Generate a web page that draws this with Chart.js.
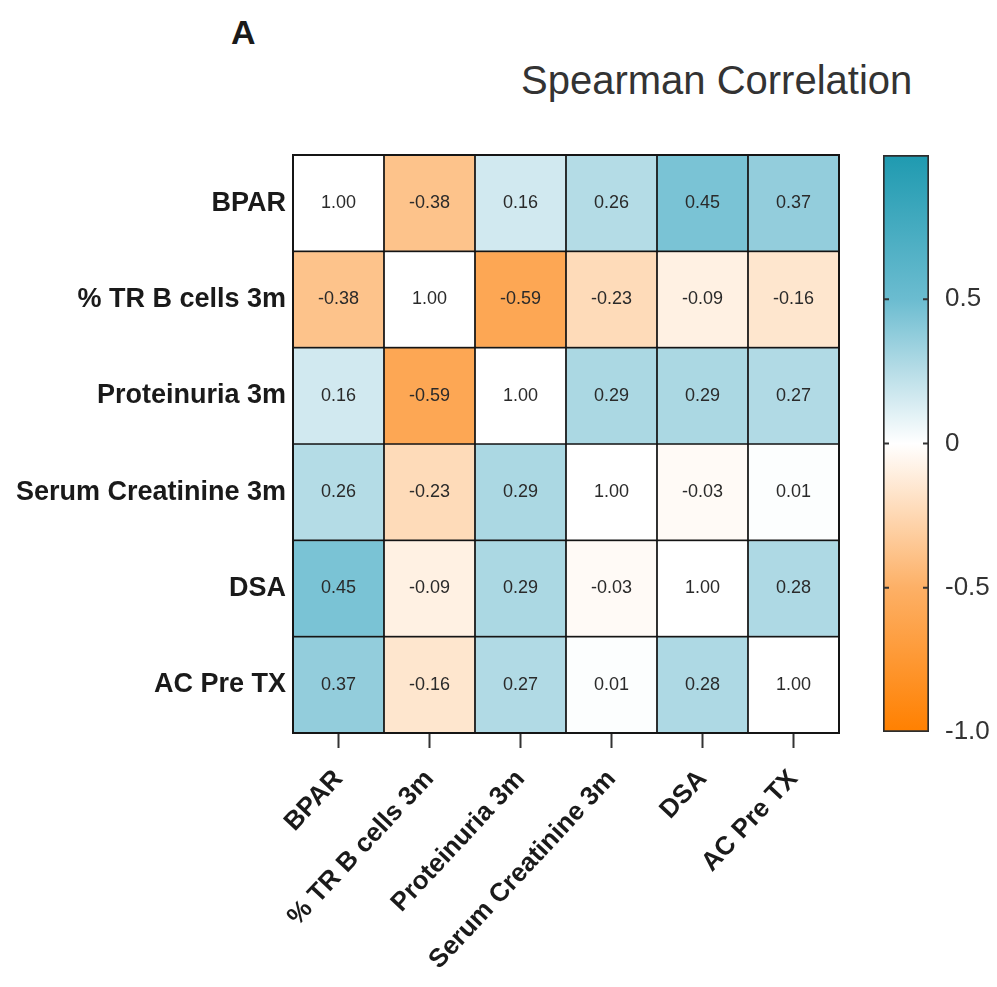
<!DOCTYPE html>
<html>
<head>
<meta charset="utf-8">
<title>Spearman Correlation</title>
<script src="https://cdn.jsdelivr.net/npm/chart.js@4.4.1/dist/chart.umd.min.js"></script>
<style>
  body { margin: 0; background: #fff; font-family: 'Liberation Sans', Arial, sans-serif; }
  #wrap { position: relative; width: 997px; height: 987px; overflow: hidden; }
  #heat { position: absolute; left: 0; top: 0; }
  #scaleBar { position: absolute; left: 860px; top: 130px; }
  .panel { position: absolute; left: 231px; top: 13px; font-weight: bold; font-size: 34px; color: #1a1a1a; }
  .title { position: absolute; left: 521px; top: 58px; font-size: 40px; color: #333; white-space: nowrap; }
</style>
</head>
<body>
<div id="wrap">
  <div class="panel">A</div>
  <div class="title">Spearman Correlation</div>
  <canvas id="heat" width="997" height="987"></canvas>
  <canvas id="scaleBar" width="137" height="630"></canvas>
</div>
<script>
// variables, same order on both axes
const variables = ['BPAR', '% TR B cells 3m', 'Proteinuria 3m', 'Serum Creatinine 3m', 'DSA', 'AC Pre TX'];

// correlation rows
const rhoBPAR = [1.00, -0.38, 0.16, 0.26, 0.45, 0.37];
const rhoTRB = [-0.38, 1.00, -0.59, -0.23, -0.09, -0.16];
const rhoProteinuria = [0.16, -0.59, 1.00, 0.29, 0.29, 0.27];
const rhoCreatinine = [0.26, -0.23, 0.29, 1.00, -0.03, 0.01];
const rhoDSA = [0.45, -0.09, 0.29, -0.03, 1.00, 0.28];
const rhoACPreTX = [0.37, -0.16, 0.27, 0.01, 0.28, 1.00];

// colour bar
const colorbarRange = [-1, 1];
const colorbarTicks = [-1, -0.5, 0, 0.5];

const rows = [rhoBPAR, rhoTRB, rhoProteinuria, rhoCreatinine, rhoDSA, rhoACPreTX];

// orange -> white -> teal
const colorStops = [
    [-1, [255, 128, 0]],
    [-0.5, [253, 176, 102]],
    [0, [255, 255, 255]],
    [0.25, [183, 221, 231]],
    [0.5, [107, 188, 208]],
    [1, [31, 154, 176]]
];

function rhoColor(v) {
    for (let i = 1; i < colorStops.length; i++) {
        const [v0, c0] = colorStops[i - 1];
        const [v1, c1] = colorStops[i];
        if (v <= v1) {
            const t = (v - v0) / (v1 - v0);
            const c = c0.map((x, k) => Math.round(x + (c1[k] - x) * t));
            return `rgb(${c.join(',')})`;
        }
    }
    return `rgb(${colorStops[colorStops.length - 1][1].join(',')})`;
}

const fontFamily = "'Liberation Sans', Arial, sans-serif";

const cellText = {
    id: 'cellText',
    afterDatasetsDraw(chart) {
        const ctx = chart.ctx;
        ctx.save();
        ctx.font = `18px ${fontFamily}`;
        ctx.fillStyle = '#2a2a2a';
        ctx.textAlign = 'center';
        ctx.textBaseline = 'middle';
        chart.data.datasets.forEach((ds, r) => {
            chart.getDatasetMeta(r).data.forEach((bar, c) => {
                ctx.fillText(ds.rho[c].toFixed(2), bar.x, (bar.y + bar.base) / 2);
            });
        });
        const a = chart.chartArea;
        ctx.strokeStyle = '#151515';
        ctx.lineWidth = 2;
        ctx.strokeRect(a.left, a.top, a.right - a.left, a.bottom - a.top);
        ctx.restore();
    }
};

new Chart(document.getElementById('heat'), {
    type: 'bar',
    data: {
        labels: variables,
        datasets: rows.map((vals, r) => ({
            label: variables[r],
            data: vals.map(() => [r, r + 1]),
            rho: vals,
            // the diagonal is left blank
            backgroundColor: vals.map((v, c) => c === r ? '#ffffff' : rhoColor(v)),
            borderColor: '#151515',
            borderWidth: 1.2,
            borderSkipped: false,
            barPercentage: 1,
            categoryPercentage: 1,
            grouped: false
        }))
    },
    options: {
        responsive: false,
        animation: false,
        layout: {
            padding: { left: 0, top: 155, right: 158, bottom: 0 }
        },
        plugins: {
            legend: { display: false },
            tooltip: { enabled: false }
        },
        scales: {
            x: {
                grid: {
                    display: true,
                    offset: false,
                    drawOnChartArea: false,
                    drawTicks: true,
                    tickLength: 15,
                    tickWidth: 2,
                    tickColor: '#333'
                },
                border: { display: false },
                ticks: {
                    color: '#1a1a1a',
                    font: { family: fontFamily, size: 26, weight: 'bold' },
                    minRotation: 47,
                    maxRotation: 47,
                    autoSkip: false,
                    padding: 16
                },
                afterFit: s => { s.height = 254; }
            },
            y: {
                type: 'linear',
                reverse: true,
                min: 0,
                max: 6,
                grid: { display: false, drawTicks: false },
                border: { display: false },
                afterBuildTicks: s => {
                    s.ticks = variables.map((_, i) => ({ value: i + 0.5 }));
                },
                ticks: {
                    color: '#1a1a1a',
                    font: { family: fontFamily, size: 27, weight: 'bold' },
                    padding: 7,
                    callback: (v, i) => variables[i]
                },
                afterFit: s => { s.width = 293; }
            }
        }
    },
    plugins: [cellText]
});

// colour bar as a single floating bar with a gradient fill
const innerTicks = {
    id: 'innerTicks',
    afterDatasetsDraw(chart) {
        const { ctx, chartArea: a } = chart;
        const y = chart.scales.y;
        ctx.save();
        ctx.strokeStyle = '#333';
        ctx.lineWidth = 2;
        colorbarTicks.forEach(v => {
            if (v === colorbarRange[0]) return;
            const py = y.getPixelForValue(v);
            ctx.beginPath();
            ctx.moveTo(a.left, py);
            ctx.lineTo(a.left + 6, py);
            ctx.moveTo(a.right - 6, py);
            ctx.lineTo(a.right, py);
            ctx.stroke();
        });
        ctx.restore();
    }
};

new Chart(document.getElementById('scaleBar'), {
    type: 'bar',
    data: {
        labels: [''],
        datasets: [{
            data: [colorbarRange],
            backgroundColor: ctx => {
                const chart = ctx.chart;
                const y = chart.scales.y;
                if (!y || !chart.chartArea) return '#fff';
                const [lo, hi] = colorbarRange;
                const g = chart.ctx.createLinearGradient(0, y.getPixelForValue(lo), 0, y.getPixelForValue(hi));
                colorStops.forEach(([v, c]) => g.addColorStop((v - lo) / (hi - lo), `rgb(${c.join(',')})`));
                return g;
            },
            borderColor: '#2d2d2d',
            borderWidth: 2,
            borderSkipped: false,
            barPercentage: 1,
            categoryPercentage: 1
        }]
    },
    options: {
        responsive: false,
        animation: false,
        layout: {
            padding: { left: 23, top: 25, right: 0, bottom: 28 }
        },
        plugins: {
            legend: { display: false },
            tooltip: { enabled: false }
        },
        scales: {
            x: { display: false },
            y: {
                position: 'right',
                min: colorbarRange[0],
                max: colorbarRange[1],
                grid: { display: false, drawTicks: false },
                border: { display: false },
                afterBuildTicks: s => {
                    s.ticks = colorbarTicks.map(v => ({ value: v }));
                },
                ticks: {
                    color: '#333',
                    font: { family: fontFamily, size: 26 },
                    padding: 16,
                    callback: v => v === 0 ? '0' : v.toFixed(1)
                },
                afterFit: s => {
                    s.width = 68;
                    s.paddingTop = 0;
                    s.paddingBottom = 0;
                }
            }
        }
    },
    plugins: [innerTicks]
});
</script>
</body>
</html>
